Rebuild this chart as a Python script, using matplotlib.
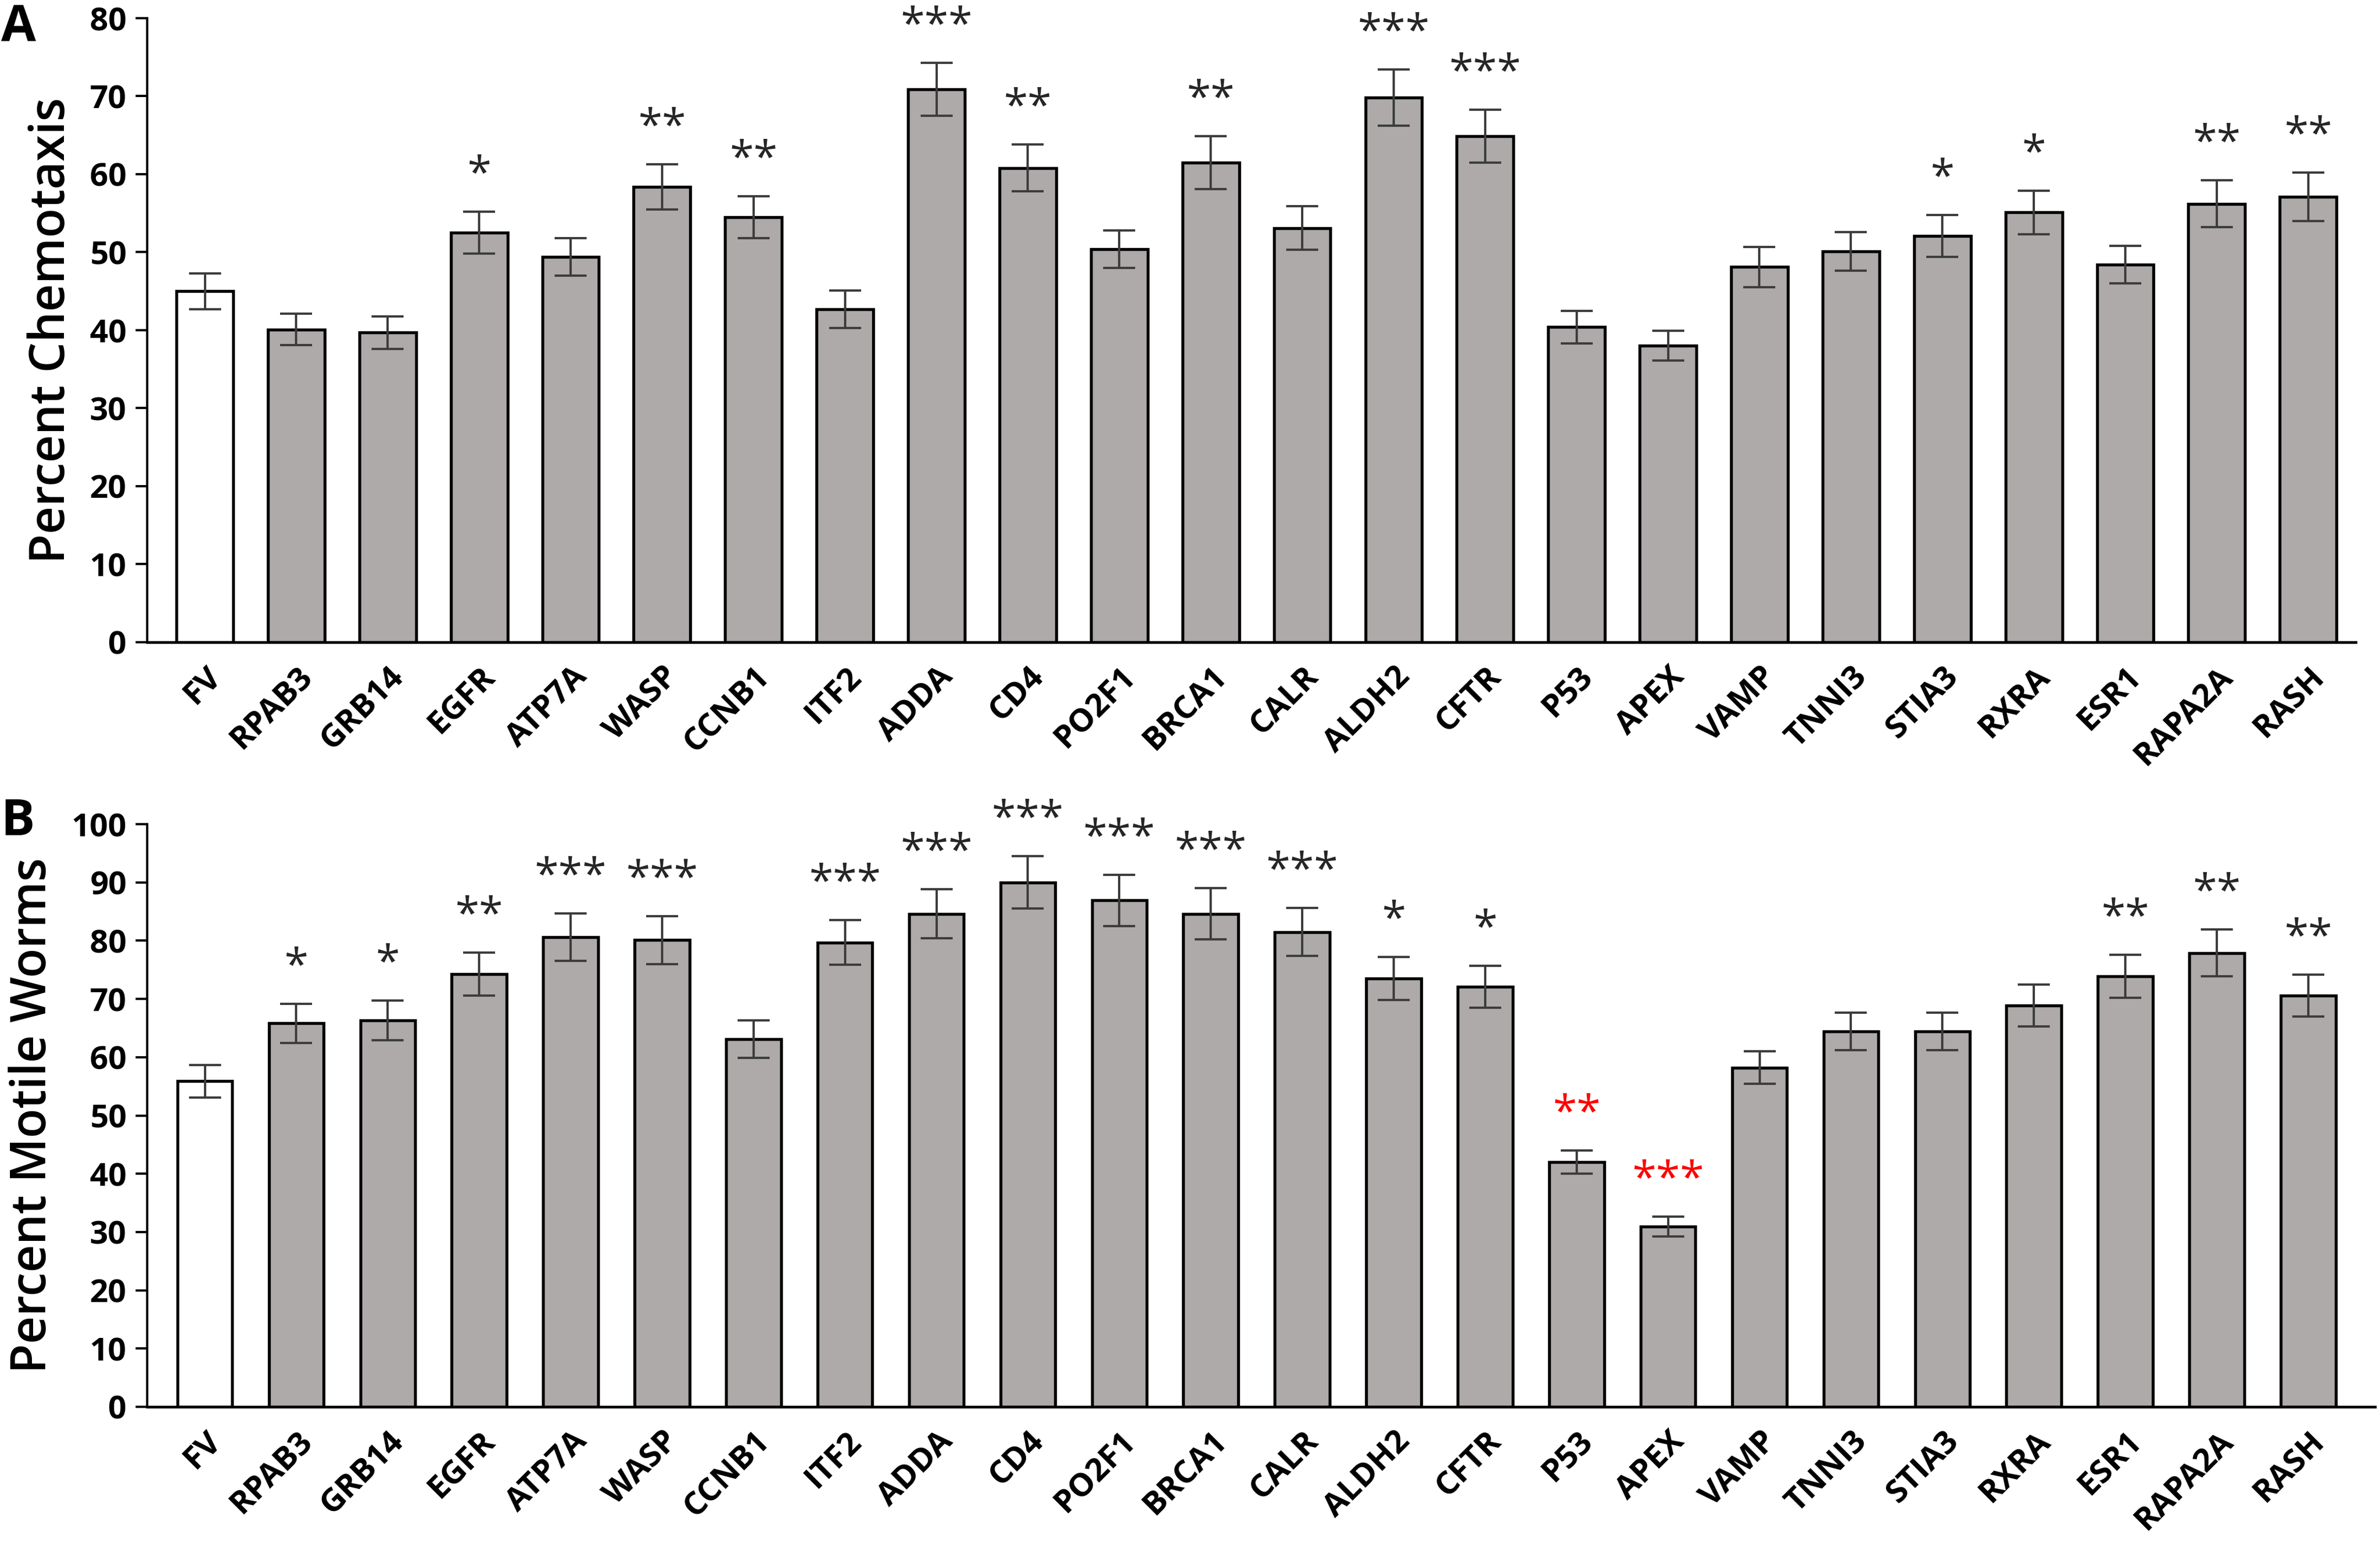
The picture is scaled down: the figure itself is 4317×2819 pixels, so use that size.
import numpy as np
import matplotlib.pyplot as plt
from matplotlib.transforms import ScaledTranslation

plt.rcParams['font.family'] = ['Open Sans', 'DejaVu Sans']

genes = ['FV', 'RPAB3', 'GRB14', 'EGFR', 'ATP7A', 'WASP', 'CCNB1', 'ITF2',
         'ADDA', 'CD4', 'PO2F1', 'BRCA1', 'CALR', 'ALDH2', 'CFTR', 'P53',
         'APEX', 'VAMP', 'TNNI3', 'STIA3', 'RXRA', 'ESR1', 'RAPA2A', 'RASH']

# panel A - chemotaxis
chemo = [45.0, 40.1, 39.7, 52.5, 49.4, 58.4, 54.5, 42.7, 70.9, 60.8, 50.4, 61.5,
         53.1, 69.8, 64.9, 40.4, 38.0, 48.1, 50.1, 52.1, 55.1, 48.4, 56.2, 57.1]
chemo_err = [2.3, 2.0, 2.1, 2.7, 2.4, 2.9, 2.7, 2.4, 3.4, 3.0, 2.4, 3.4,
             2.8, 3.6, 3.4, 2.1, 1.9, 2.6, 2.5, 2.7, 2.8, 2.4, 3.0, 3.1]
chemo_sig = ['', '', '', '*', '', '**', '**', '', '***', '**', '', '**',
             '', '***', '***', '', '', '', '', '*', '*', '', '**', '**']

# panel B - motility
motile = [55.9, 65.8, 66.3, 74.3, 80.6, 80.1, 63.1, 79.7, 84.6, 90.0, 86.9, 84.6,
          81.5, 73.5, 72.1, 42.0, 30.9, 58.2, 64.4, 64.4, 68.9, 73.9, 77.9, 70.6]
motile_err = [2.8, 3.4, 3.4, 3.7, 4.1, 4.1, 3.2, 3.8, 4.2, 4.5, 4.4, 4.4,
              4.1, 3.7, 3.6, 2.0, 1.7, 2.8, 3.2, 3.2, 3.6, 3.7, 4.0, 3.6]
motile_sig = ['', '*', '*', '**', '***', '***', '', '***', '***', '***', '***', '***',
              '***', '*', '*', '**', '***', '', '', '', '', '**', '**', '**']
motile_sig_red = ['P53', 'APEX']

gray = '#AEAAAA'
x = np.arange(len(genes))
colors = ['white'] + [gray] * (len(genes) - 1)

W, H = 4317, 2819
fig = plt.figure(figsize=(W / 300, H / 300), dpi=300)
axA = fig.add_axes([267 / W, 1 - 1165 / H, (4273 - 267) / W, (1165 - 33) / H])
axB = fig.add_axes([267 / W, 1 - 2552 / H, (4308 - 267) / W, (2552 - 1495) / H])


def draw(ax, vals, errs, sig, width, ymax, xmax, ylabel, red=()):
    ax.bar(x, vals, width=width, color=colors, edgecolor='black', linewidth=1.3, zorder=2)
    ax.errorbar(x, vals, yerr=errs, fmt='none', ecolor='#3c3c3c', elinewidth=1.0,
                capsize=7, capthick=1.0, zorder=3)
    for i, s in enumerate(sig):
        if s:
            c = 'red' if genes[i] in red else '#262626'
            ax.annotate(s, (x[i], vals[i] + errs[i]), xytext=(0, 6),
                        textcoords='offset points', ha='center', va='bottom',
                        fontsize=19, color=c)
    ax.set_xlim(-0.63, xmax)
    ax.set_ylim(0, ymax)
    ax.set_yticks(np.arange(0, ymax + 1, 10))
    ax.spines['top'].set_visible(False)
    ax.spines['right'].set_visible(False)
    ax.spines['left'].set_linewidth(1.0)
    ax.spines['bottom'].set_linewidth(1.2)
    ax.tick_params(axis='y', length=5, width=1.0, labelsize=14, pad=4)
    ax.tick_params(axis='x', length=0, labelsize=14, pad=13)
    for lab in ax.get_yticklabels():
        lab.set_fontweight('bold')
    ax.set_xticks(x)
    ax.set_xticklabels(genes, rotation=45, ha='right', va='center',
                       rotation_mode='anchor', fontweight='bold')
    off = ScaledTranslation(5 / 72, 0, fig.dpi_scale_trans)
    for lab in ax.get_xticklabels():
        lab.set_transform(lab.get_transform() + off)
    ax.set_ylabel(ylabel, fontsize=21, fontweight='semibold', labelpad=6)


draw(axA, chemo, chemo_err, chemo_sig, 0.62, 80, 23.52, 'Percent Chemotaxis')
draw(axB, motile, motile_err, motile_sig, 0.6, 100, 23.73, 'Percent Motile Worms', motile_sig_red)

fig.text(2 / W, 1 - 5 / H, 'A', fontsize=22, fontweight='bold', va='top', ha='left')
fig.text(2 / W, 1 - 1445 / H, 'B', fontsize=22, fontweight='bold', va='top', ha='left')

fig.savefig('out.png', dpi=300)
